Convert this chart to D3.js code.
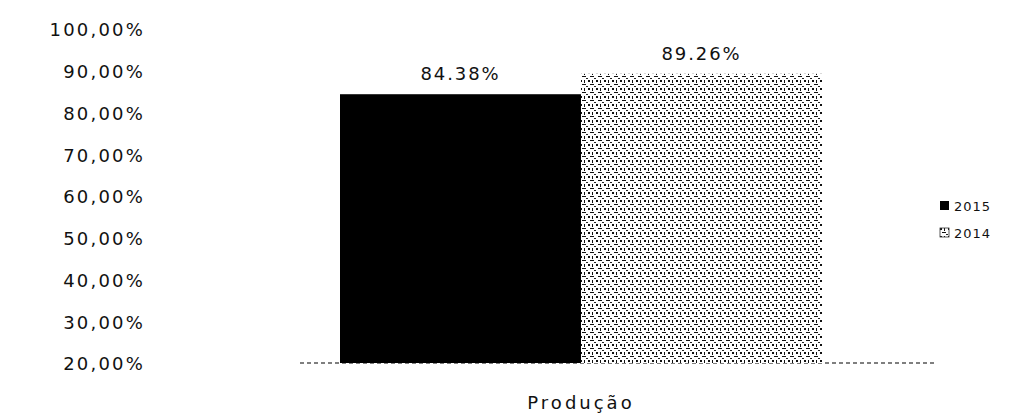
<!DOCTYPE html>
<html>
<head>
<meta charset="utf-8">
<style>
  body { margin: 0; background: #fff; }
  text { font-family: "DejaVu Sans", sans-serif; fill: #111; }
</style>
<script src="https://d3js.org/d3.v7.min.js"></script>
</head>
<body>
<div id="chart"></div>
<script>
// data
var categories = ["Produção"];
var seriesNames = ["2015", "2014"];
var values2015 = [84.38];
var values2014 = [89.26];
var yTicks = [20, 30, 40, 50, 60, 70, 80, 90, 100];

var width = 1011, height = 414;
var margin = { top: 29, right: 76, bottom: 51, left: 300 };

var svg = d3.select("#chart").append("svg")
    .attr("width", width)
    .attr("height", height);

// dithered look of the second bar
var defs = svg.append("defs");
var pat = defs.append("pattern")
    .attr("id", "dots")
    .attr("width", 8).attr("height", 8)
    .attr("patternUnits", "userSpaceOnUse");
pat.append("rect").attr("width", 8).attr("height", 8).attr("fill", "#fff");
pat.append("rect").attr("x", 0).attr("y", 0).attr("width", 2).attr("height", 2).attr("fill", "#111");
pat.append("rect").attr("x", 4).attr("y", 0).attr("width", 1).attr("height", 3).attr("fill", "#111");
pat.append("rect").attr("x", 2).attr("y", 4).attr("width", 4).attr("height", 1).attr("fill", "#111");
pat.append("rect").attr("x", 6).attr("y", 6).attr("width", 2).attr("height", 1).attr("fill", "#222");

var y = d3.scaleLinear()
    .domain([20, 100])
    .range([height - margin.bottom, margin.top]);

var x0 = d3.scaleBand()
    .domain(categories)
    .range([margin.left, width - margin.right]);

var x1 = d3.scaleBand()
    .domain(seriesNames)
    .range([40, 522]);

var fills = { "2015": "#000", "2014": "url(#dots)" };
var series = [
  { name: "2015", values: values2015 },
  { name: "2014", values: values2014 }
];

// y axis, labels only
var yAxis = d3.axisLeft(y)
    .tickValues(yTicks)
    .tickSize(0)
    .tickPadding(0)
    .tickFormat(function(d) { return d.toFixed(2).replace(".", ",") + "%"; });

svg.append("g")
    .attr("transform", "translate(145,1)")
    .call(yAxis)
    .call(function(g) { g.select(".domain").remove(); })
    .selectAll("text")
    .style("font-size", "18px")
    .style("letter-spacing", "2.2px")
    .attr("fill", "#111");

// baseline
svg.append("line")
    .attr("x1", margin.left).attr("x2", width - margin.right)
    .attr("y1", y(20)).attr("y2", y(20))
    .attr("stroke", "#555")
    .attr("stroke-width", 1.5)
    .attr("stroke-dasharray", "4,3");

var groups = svg.selectAll(".cat")
    .data(categories)
    .enter().append("g")
    .attr("class", "cat")
    .attr("transform", function(d) { return "translate(" + x0(d) + ",0)"; });

series.forEach(function(s) {
  groups.append("rect")
      .attr("x", x1(s.name))
      .attr("y", function(d, i) { return y(s.values[i]); })
      .attr("width", x1.bandwidth())
      .attr("height", function(d, i) { return y(20) - y(s.values[i]); })
      .attr("fill", fills[s.name]);

  groups.append("text")
      .attr("x", x1(s.name) + x1.bandwidth() / 2)
      .attr("y", function(d, i) { return y(s.values[i]) - 14; })
      .attr("text-anchor", "middle")
      .style("font-size", "18px")
      .style("letter-spacing", "1.9px")
      .text(function(d, i) { return s.values[i].toFixed(2) + "%"; });
});

// category label
svg.append("g")
    .attr("transform", "translate(0," + (y(20) + 46) + ")")
    .selectAll("text")
    .data(categories)
    .enter().append("text")
    .attr("x", function(d) { return x0(d) + 40 + 241; })
    .attr("text-anchor", "middle")
    .style("font-size", "18px")
    .style("letter-spacing", "3px")
    .text(function(d) { return d; });

// legend
var legend = svg.append("g")
    .attr("transform", "translate(940,201)");
var li = legend.selectAll("g")
    .data(seriesNames)
    .enter().append("g")
    .attr("transform", function(d, i) { return "translate(0," + (i * 27) + ")"; });
li.append("rect")
    .attr("width", 9).attr("height", 9)
    .attr("fill", function(d) { return fills[d]; })
    .attr("stroke", function(d) { return d === "2014" ? "#333" : "none"; })
    .attr("stroke-width", 0.8);
li.append("text")
    .attr("x", 14).attr("y", 10)
    .style("font-size", "13px")
    .style("letter-spacing", "1px")
    .text(function(d) { return d; });
</script>
</body>
</html>
